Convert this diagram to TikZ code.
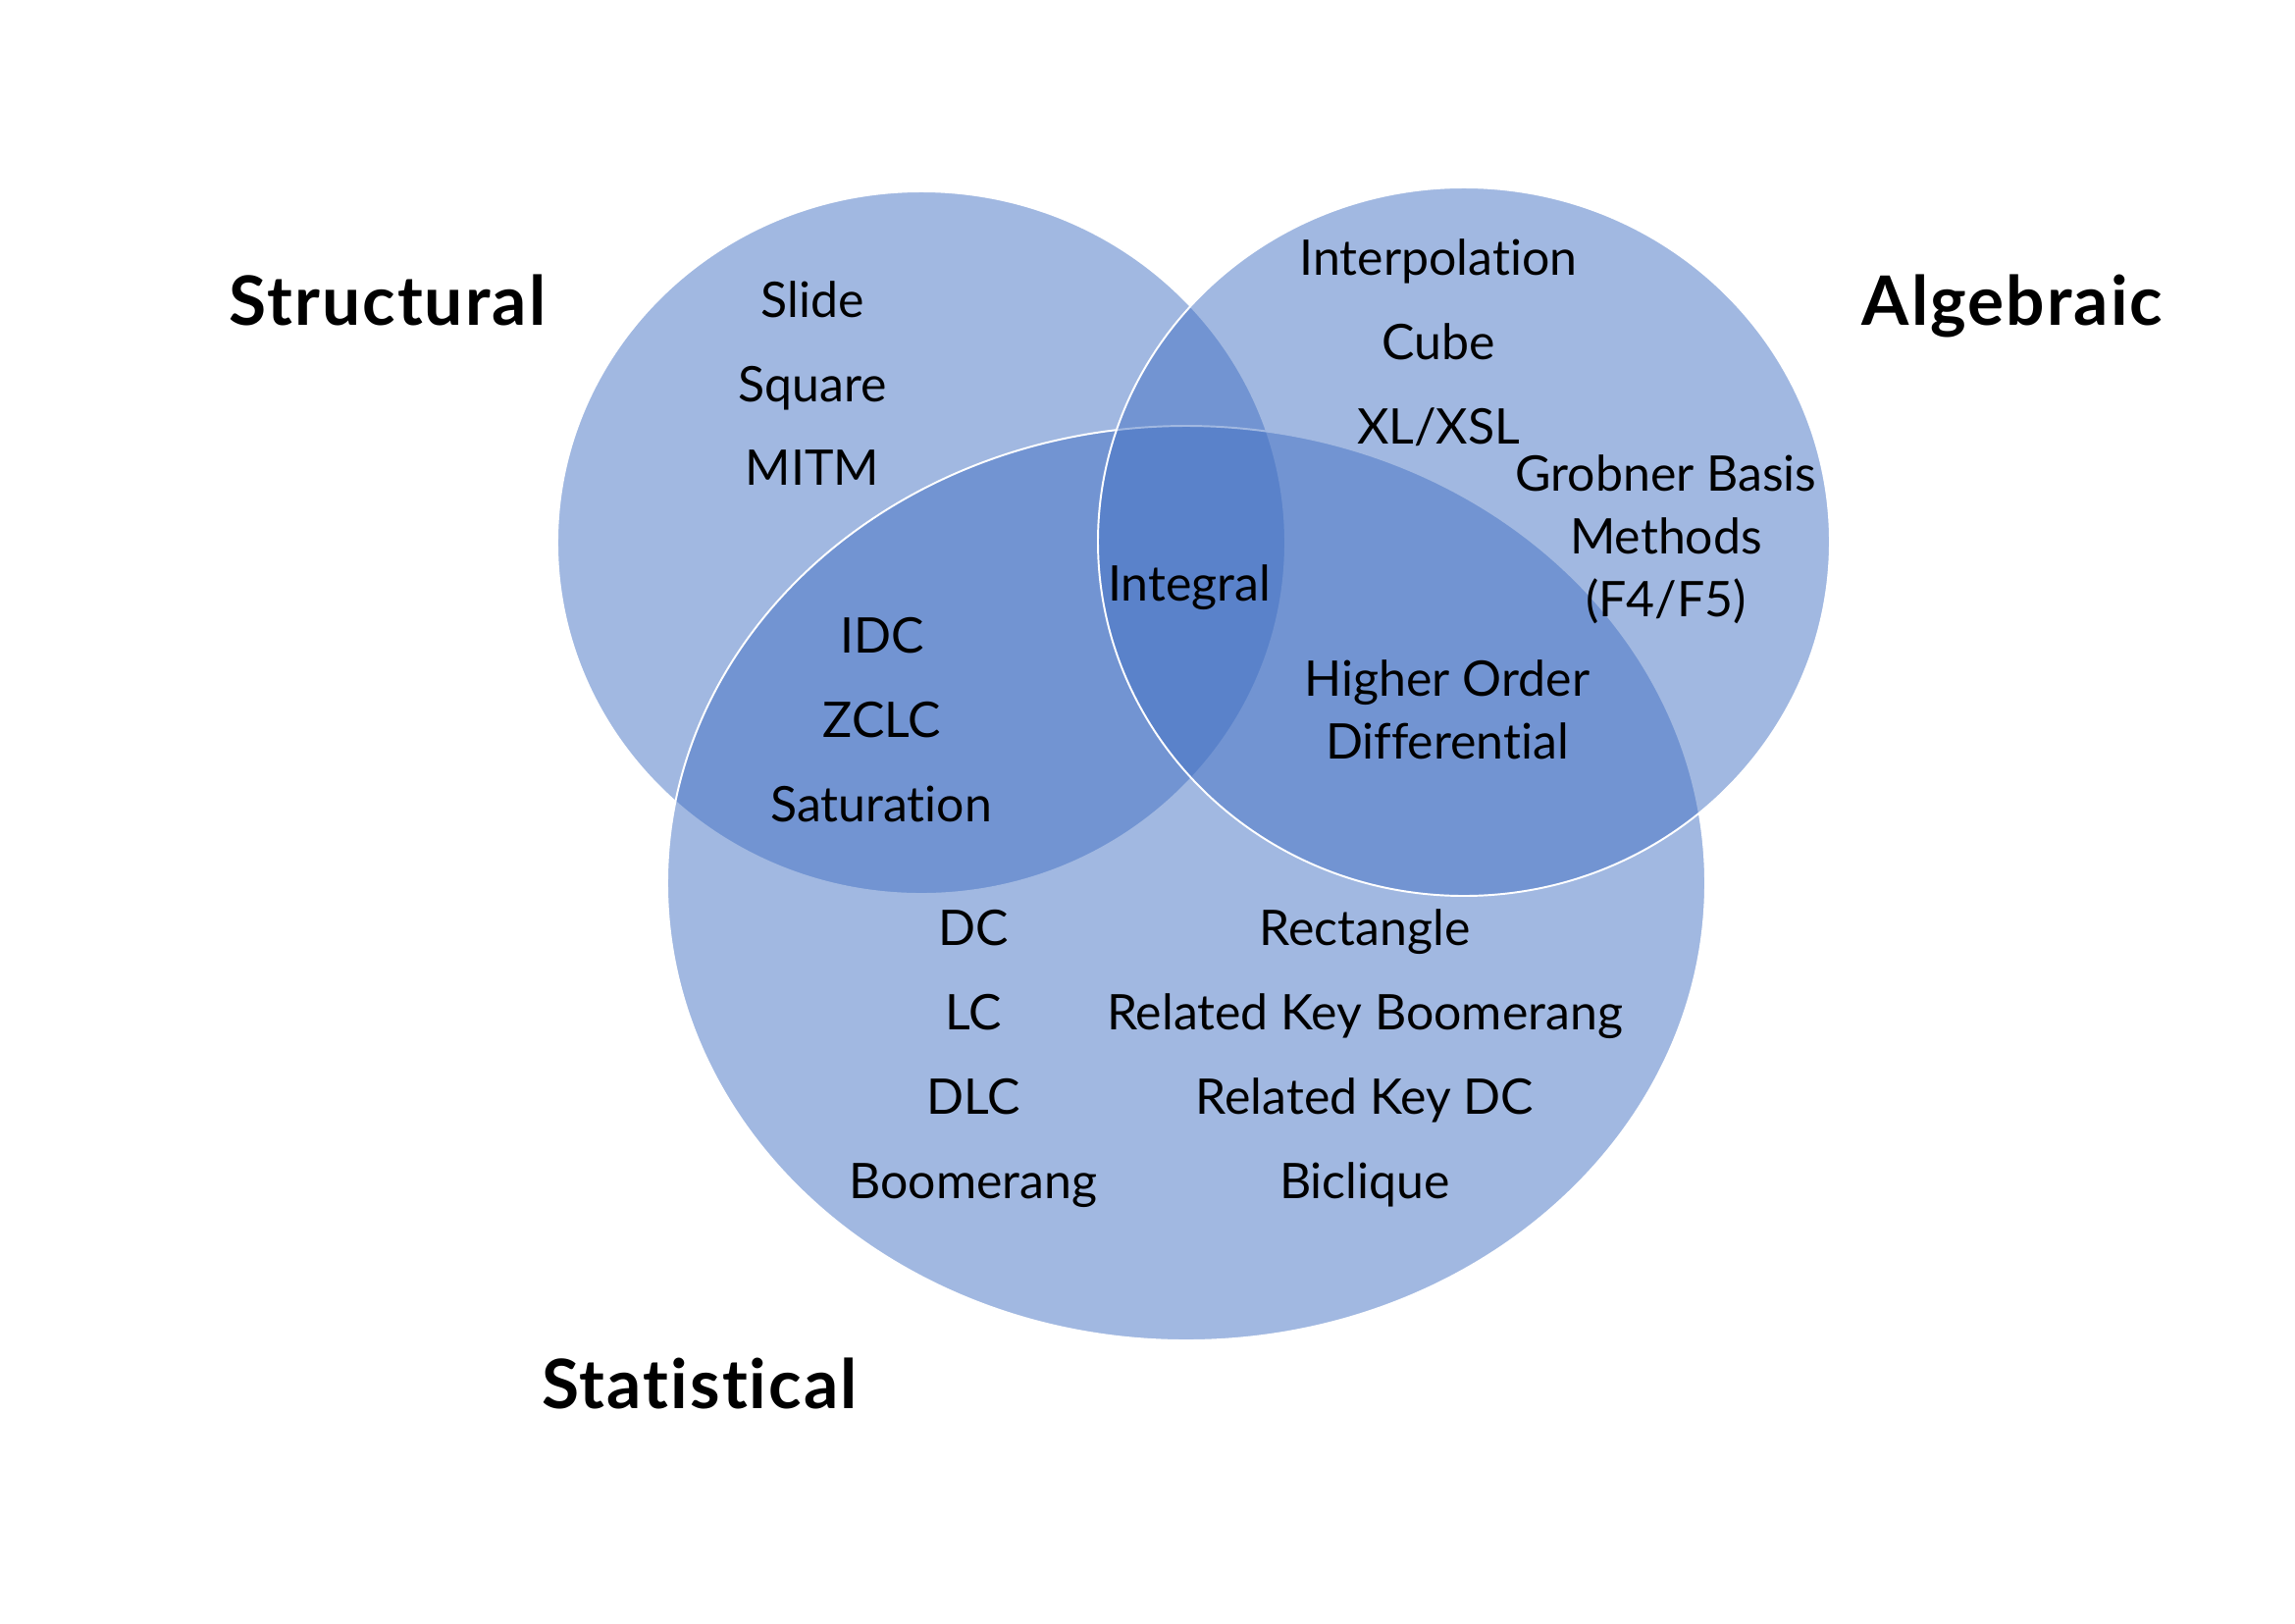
\documentclass[tikz,border=0pt]{standalone}
\usepackage{fontspec}
\setmainfont[Ligatures=NoCommon]{Lato}
\newfontfamily\headfont[LetterSpace=3,Ligatures=NoCommon]{Lato}
\definecolor{vennblue}{HTML}{4472C4}
\begin{document}
\begin{tikzpicture}[x=0.36pt,y=-0.36pt,
  venn/.style={fill=vennblue,fill opacity=0.5,draw=white,draw opacity=1,line width=0.7pt},
  item/.style={anchor=base,inner sep=0pt,font=\fontsize{18}{23}\selectfont,text=black,align=center},
  head/.style={anchor=base,inner sep=0pt,font=\headfont\fontsize{25}{29}\selectfont\bfseries,text=black}]
\useasboundingbox (0,0) rectangle (2339,1654);
\fill[white] (0,0) rectangle (2339,1654);
% circles
\draw[venn] (939,553) ellipse [x radius=371, y radius=358];
\draw[venn] (1209,900) ellipse [x radius=529, y radius=466];
\draw[venn] (1492,552) ellipse [x radius=373, y radius=361];
% headings
\node[head] (structural) at (395,331) {Structural};
\node[head] (algebraic) at (2051,331) {Algebraic};
\node[head] (statistical) at (713,1435) {Statistical};
% structural only
\node[item] (slide) at (828,323) {Slide};
\node[item] (square) at (828,409) {Square};
\node[item] (mitm) at (828,494) {MITM};
% algebraic only
\node[item] (interp) at (1466,280) {Interpolation};
\node[item] (cube) at (1466,366) {Cube};
\node[item] (xl) at (1466,452) {XL/XSL};
\node[item,anchor=north] (grob) at (1698,463) {Grobner Basis\\Methods\\(F4/F5)};
% all three
\node[item] (integral) at (1212,612) {Integral};
% structural + statistical
\node[item] (idc) at (899,665) {IDC};
\node[item] (zclc) at (899,751) {ZCLC};
\node[item] (sat) at (898,837) {Saturation};
% algebraic + statistical
\node[item,anchor=north] (hod) at (1475,672) {Higher Order\\Differential};
% statistical only
\node[item] (dc) at (992,963) {DC};
\node[item] (lc) at (992,1049) {LC};
\node[item] (dlc) at (992,1135) {DLC};
\node[item] (boom) at (992,1221) {Boomerang};
\node[item] (rect) at (1391,963) {Rectangle};
\node[item] (rkb) at (1391,1049) {Related Key Boomerang};
\node[item] (rkdc) at (1391,1135) {Related Key DC};
\node[item] (bic) at (1391,1221) {Biclique};
\end{tikzpicture}
\end{document}
